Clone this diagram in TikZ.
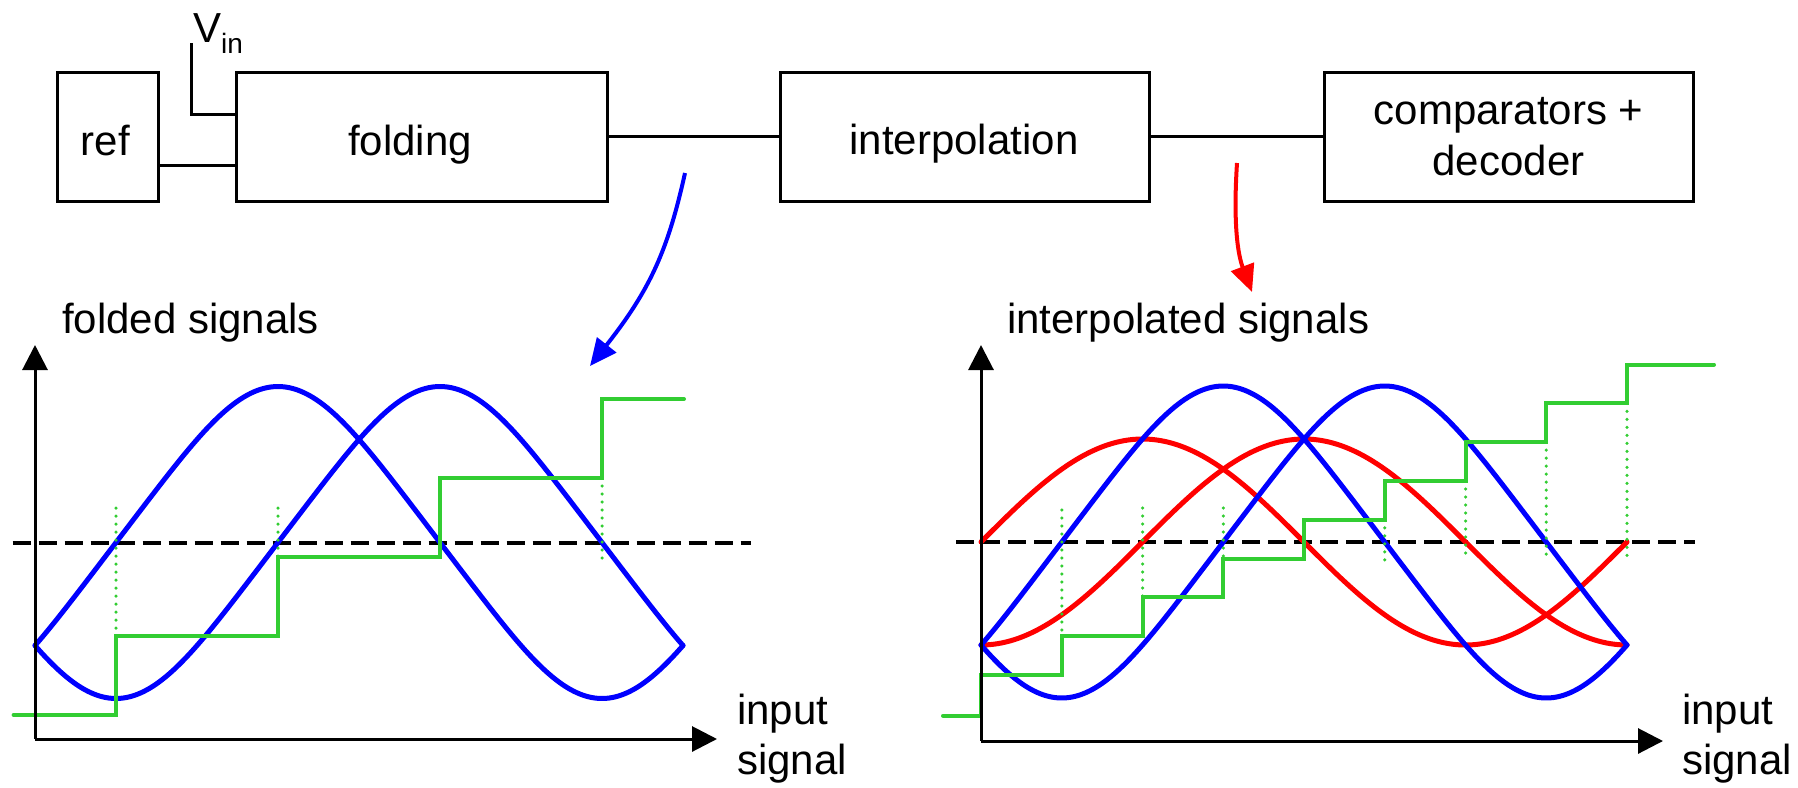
\documentclass[tikz,border=0pt]{standalone}
\usepackage{fontspec}
\setmainfont{Liberation Sans}
\usetikzlibrary{arrows.meta}
\definecolor{sgreen}{RGB}{50,205,50}
\definecolor{sblue}{RGB}{0,0,255}
\definecolor{sred}{RGB}{255,0,0}
\tikzset{
  blk/.style={draw, line width=3pt, inner sep=0pt, minimum height=129pt},
  lbl/.style={font=\fontsize{42}{50}\selectfont, inner sep=0pt, anchor=base},
  lblw/.style={font=\fontsize{42}{50}\selectfont, inner sep=0pt, anchor=base west},
  wire/.style={line width=3pt},
  axis/.style={line width=3pt, -{Triangle[length=25pt,width=25pt]}},
  bluec/.style={sblue, line width=5pt, line join=round, line cap=round},
  redc/.style={sred, line width=5pt, line cap=round},
  stair/.style={sgreen, line width=4pt, line cap=round},
  gdots/.style={sgreen, line width=3.5pt, line cap=round, dash pattern=on 0pt off 8pt},
  thr/.style={line width=4pt, dash pattern=on 18pt off 8pt},
  pointer/.style={line width=4pt, -{Triangle[length=27pt,width=24pt]}},
}
\begin{document}
\begin{tikzpicture}[x=1pt,y=-1pt]
\useasboundingbox (0,0) rectangle (1798,787);

% ---------- block diagram ----------
\node[blk, minimum width=101.5pt] (ref) at (107.75,136.5) {};
\node[blk, minimum width=370.4pt] (fold) at (421.8,136.5) {};
\node[blk, minimum width=369pt] (interp) at (964.5,136.5) {};
\node[blk, minimum width=369pt] (comp) at (1508.5,136.5) {};
\node[lbl] (reft) at (105.5,155) {ref};
\node[lbl] (foldt) at (410,155) {folding};
\node[lbl] (interpt) at (964,154) {interpolation};
\node[lbl] (compt1) at (1508.5,124) {comparators +};
\node[lbl] (compt2) at (1508.5,175) {decoder};

\draw[wire] (ref.east |- 0,165) -- (fold.west |- 0,165);
\coordinate (vintop) at (191,43);
\draw[wire] (vintop) |- (fold.west |- 0,114);
\node[lblw] (vin) at (193,42) {V\raisebox{-11pt}{\fontsize{28}{28}\selectfont in}};
\draw[wire] (fold.east) -- (interp.west);
\draw[wire] (interp.east) -- (comp.west);

% pointers
\coordinate (bs) at (685,173);
\coordinate (be) at (590,366);
\draw[pointer, sblue] (bs) .. controls (668,250) and (650,290) .. (be);
\coordinate (rs) at (1237,163);
\coordinate (re) at (1252,292);
\draw[pointer, sred] (rs) .. controls (1233,225) and (1238,255) .. (re);

% ---------- left plot ----------
\node[lblw] (ltitle) at (62,333) {folded signals};
\node[lblw] (lin1) at (737,724) {input};
\node[lblw] (lin2) at (737,774) {signal};
\coordinate (lo) at (35,739);
\coordinate (lyt) at (35,345);
\coordinate (lxt) at (717,739);
\draw[thr] (12.7,542.5) -- (751,542.5);
\draw[bluec] plot[domain=35:683, samples=220] (\x, {542.5 - 156*(0.967*cos((\x-278)/162*90) + 0.033*cos(3*(\x-278)/162*90))});
\draw[bluec] plot[domain=35:683, samples=220] (\x, {542.5 - 156*(0.967*cos((\x-440)/162*90) + 0.033*cos(3*(\x-440)/162*90))});
\draw[stair] (13.6,715) -- (116,715) -- (116,636) -- (278,636) -- (278,557) -- (440,557) -- (440,478) -- (602,478) -- (602,399) -- (684,399);
\draw[gdots] (116,508) -- (116,636);
\draw[gdots] (278,508) -- (278,557);
\draw[gdots] (602,478) -- (602,560);
\draw[axis] (lo) -- (lyt);
\draw[axis] (lo) -- (lxt);

% ---------- right plot ----------
\node[lblw] (rtitle) at (1007,333) {interpolated signals};
\node[lblw] (rin1) at (1682,724) {input};
\node[lblw] (rin2) at (1682,774) {signal};
\coordinate (ro) at (981,741);
\coordinate (ryt) at (981,345);
\coordinate (rxt) at (1663,741);
\draw[thr] (956,542) -- (1695,542);
\draw[redc] plot[domain=981:1627, samples=220] (\x, {542 - 103*sin((\x-981)/161.5*90)});
\draw[redc] plot[domain=981:1627, samples=220] (\x, {542 + 103*cos((\x-981)/161.5*90)});
\draw[bluec] plot[domain=981:1627, samples=220] (\x, {542 - 156*(0.967*cos((\x-1223.25)/161.5*90) + 0.033*cos(3*(\x-1223.25)/161.5*90))});
\draw[bluec] plot[domain=981:1627, samples=220] (\x, {542 - 156*(0.967*cos((\x-1384.75)/161.5*90) + 0.033*cos(3*(\x-1384.75)/161.5*90))});
\draw[stair] (943,715.7) -- (981,715.7) -- (981,675) -- (1061.75,675) -- (1061.75,636.2) -- (1142.5,636.2) -- (1142.5,597.4) -- (1223.25,597.4) -- (1223.25,558.6) -- (1304,558.6) -- (1304,519.8) -- (1384.75,519.8) -- (1384.75,481) -- (1465.5,481) -- (1465.5,442.2) -- (1546.25,442.2) -- (1546.25,403.4) -- (1627,403.4) -- (1627,364.6) -- (1714,364.6);
\draw[gdots] (1061.75,510) -- (1061.75,636.2);
\draw[gdots] (1142.5,508) -- (1142.5,597.4);
\draw[gdots] (1223.25,508) -- (1223.25,558.6);
\draw[gdots] (1384.75,519.8) -- (1384.75,560);
\draw[gdots] (1465.5,481) -- (1465.5,558);
\draw[gdots] (1546.25,442.2) -- (1546.25,558);
\draw[gdots] (1627,403.4) -- (1627,558);
\draw[axis] (ro) -- (ryt);
\draw[axis] (ro) -- (rxt);
\end{tikzpicture}
\end{document}
